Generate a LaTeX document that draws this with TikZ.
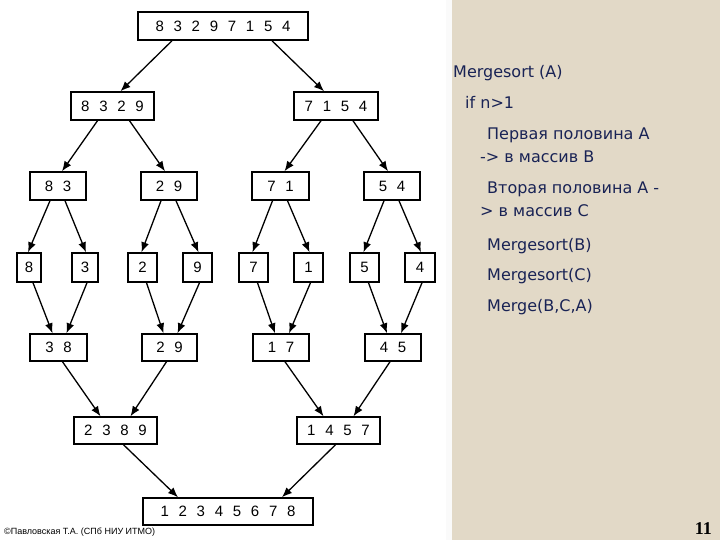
\documentclass[tikz,border=0pt]{standalone}
\usepackage{fontspec}
\setmainfont{DejaVu Sans}
\newfontfamily\numf{Liberation Sans}
\newfontfamily\serifb{Liberation Serif}
\usetikzlibrary{arrows.meta}
\definecolor{beige}{RGB}{226,217,199}
\definecolor{navy}{RGB}{25,35,85}
\newcommand\dgap{\hspace{0.65em}}
\begin{document}
\begin{tikzpicture}[x=1pt,y=-1pt,
  bx/.style={draw,line width=1.5pt,inner sep=0pt,font=\numf\fontsize{15}{17}\selectfont},
  ar/.style={-{Latex[length=10pt,width=8pt]},line width=1.3pt},
  code/.style={anchor=base west,inner sep=0pt,text=navy,font=\fontsize{16}{19}\selectfont}]
\useasboundingbox (0,0) rectangle (720,540);
\fill[beige] (450,0) rectangle (720,540);
\fill[white!96!gray] (446,0) rectangle (452,540);
\newcommand\bbox[6]{\node[bx,minimum width=#3-#2,minimum height=#5-#4] (#1) at ({(#2+#3)/2},{(#4+#5)/2}) {#6};}
\bbox{a}{138}{308}{12}{40}{8\dgap3\dgap2\dgap9\dgap7\dgap1\dgap5\dgap4}
\bbox{b1}{71}{154}{92}{120}{8\dgap3\dgap2\dgap9}
\bbox{b2}{294}{378}{92}{120}{7\dgap1\dgap5\dgap4}
\bbox{c1}{30}{86}{172}{200}{8\dgap3}
\bbox{c2}{141}{197}{172}{200}{2\dgap9}
\bbox{c3}{252}{309}{172}{200}{7\dgap1}
\bbox{c4}{364}{420}{172}{200}{5\dgap4}
\bbox{d1}{17}{41}{253}{282}{8}
\bbox{d2}{72}{98}{253}{282}{3}
\bbox{d3}{128}{157}{253}{282}{2}
\bbox{d4}{183}{212}{253}{282}{9}
\bbox{d5}{239}{268}{253}{282}{7}
\bbox{d6}{294}{323}{253}{282}{1}
\bbox{d7}{350}{379}{253}{282}{5}
\bbox{d8}{405}{435}{253}{282}{4}
\bbox{e1}{30}{87}{334}{361}{3\dgap8}
\bbox{e2}{142}{197}{334}{361}{2\dgap9}
\bbox{e3}{253}{309}{334}{361}{1\dgap7}
\bbox{e4}{365}{421}{334}{361}{4\dgap5}
\bbox{f1}{74}{157}{417}{444}{2\dgap3\dgap8\dgap9}
\bbox{f2}{297}{380}{417}{444}{1\dgap4\dgap5\dgap7}
\bbox{g}{143}{313}{498}{525}{1\dgap2\dgap3\dgap4\dgap5\dgap6\dgap7\dgap8}
% split arrows
\draw[ar] ([xshift=-51]a.south) -- ([xshift=8]b1.north);
\draw[ar] ([xshift=49]a.south) -- ([xshift=-12]b2.north);
\foreach \p/\l/\r in {b1/c1/c2,b2/c3/c4}{
  \draw[ar] ([xshift=-15]\p.south) -- ([xshift=4]\l.north);
  \draw[ar] ([xshift=17]\p.south) -- ([xshift=-4]\r.north);}
\foreach \p/\l/\r in {c1/d1/d2,c2/d3/d4,c3/d5/d6,c4/d7/d8}{
  \draw[ar] ([xshift=-8]\p.south) -- ([xshift=-1]\l.north);
  \draw[ar] ([xshift=7]\p.south) -- ([xshift=1]\r.north);}
% merge arrows
\foreach \l/\r/\c in {d1/d2/e1,d3/d4/e2,d5/d6/e3,d7/d8/e4}{
  \draw[ar] ([xshift=4]\l.south) -- ([xshift=-6]\c.north);
  \draw[ar] ([xshift=2]\r.south) -- ([xshift=8]\c.north);}
\draw[ar] ([xshift=4]e1.south) -- ([xshift=-15]f1.north);
\draw[ar] ([xshift=-3]e2.south) -- ([xshift=15]f1.north);
\draw[ar] ([xshift=4]e3.south) -- ([xshift=-15]f2.north);
\draw[ar] ([xshift=-3]e4.south) -- ([xshift=15]f2.north);
\draw[ar] ([xshift=8]f1.south) -- ([xshift=-50]g.north);
\draw[ar] ([xshift=-3]f2.south) -- ([xshift=54]g.north);
% code
\node[code] (t1) at (453,78) {Mergesort (A)};
\node[code] (t2) at (465,109) {if n>1};
\node[code] (t3) at (487,140) {Первая половина А};
\node[code] (t4) at (480,163) {-> в массив В};
\node[code] (t5) at (487,194) {Вторая половина А -};
\node[code] (t6) at (480,217) {> в массив С};
\node[code] (t7) at (487,250) {Mergesort(B)};
\node[code] (t8) at (487,280) {Mergesort(C)};
\node[code] (t9) at (487,311) {Merge(B,C,A)};
\node[anchor=base east,inner sep=0pt,font=\serifb\bfseries\fontsize{18}{20}\selectfont] (pg) at (712,534) {11};
\node[anchor=base west,inner sep=0pt,font=\numf\fontsize{9}{10}\selectfont] (cp) at (4,534) {©Павловская Т.А. (СПб НИУ ИТМО)};
\end{tikzpicture}
\end{document}
